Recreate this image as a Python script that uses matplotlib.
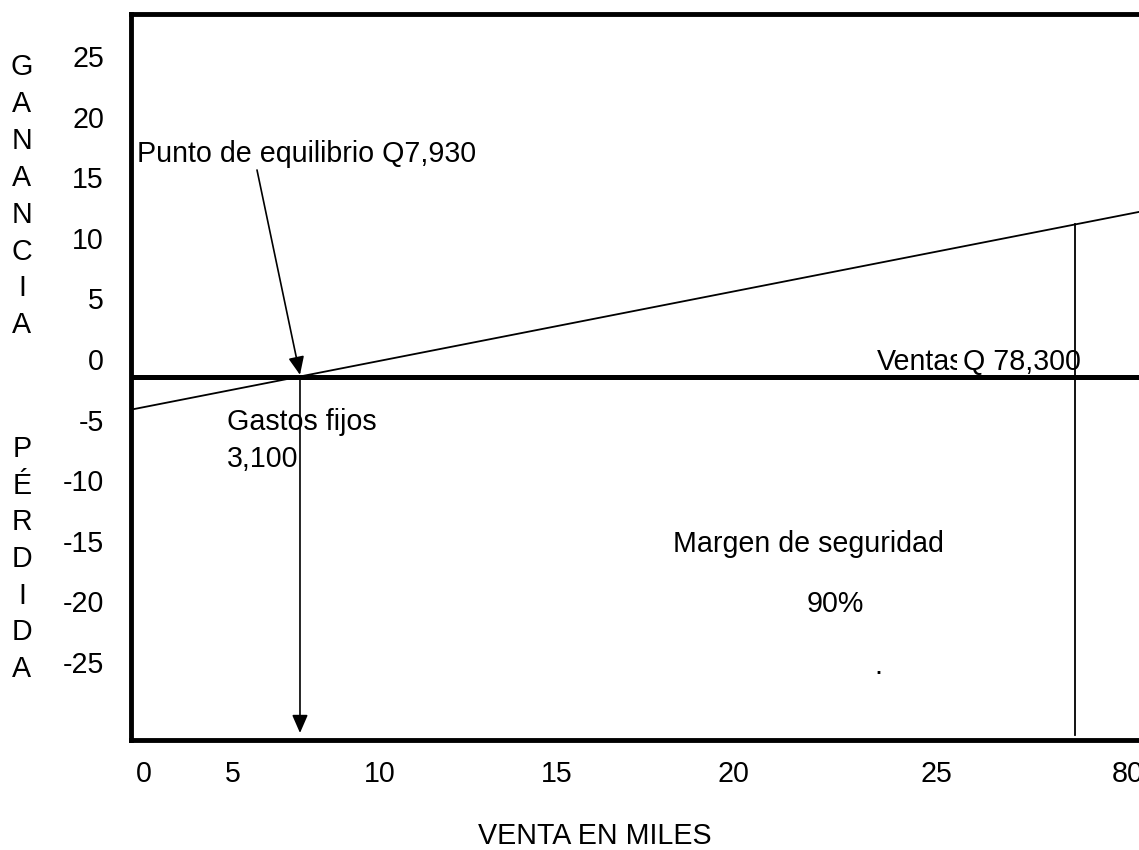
import matplotlib
matplotlib.use("Agg")
import matplotlib.pyplot as plt

plt.rcParams['font.family'] = ['Liberation Sans', 'DejaVu Sans']

# ---------------- data (thousands of Quetzales) ----------------
fixed_costs = 3.1          # Gastos fijos
breakeven_sales = 7.93     # Punto de equilibrio
actual_sales = 78.3        # Ventas
safety_margin_pct = 90     # Margen de seguridad

x_tick_labels = ["0", "5", "10", "15", "20", "25", "80"]
y_tick_labels = ["25", "20", "15", "10", "5", "0", "-5", "-10", "-15", "-20", "-25"]
gain_letters = list("GANANCIA")
loss_letters = list("PÉRDIDA")

# ---------------- layout (pixels of the 1139x850 canvas) ----------------
W, H = 1139, 850
FS = 20.6
AX_L, AX_R, AX_T, AX_B = 131, 1150, 14, 740
PX0, SX = 212.6, 11.02     # pixel of sales=0, pixels per thousand
PY0, SY = 376.5, 5.53      # pixel of profit=0, pixels per thousand


def fx(px):
    return px / W


def fy(py):
    return 1 - py / H


def dx(px):
    return (px - PX0) / SX


def dy(py):
    return (PY0 - py) / SY


fig = plt.figure(figsize=(W / 100, H / 100), dpi=100)
ax = fig.add_axes([fx(AX_L), fy(AX_B), (AX_R - AX_L) / W, (AX_B - AX_T) / H])
ax.set_xlim(dx(AX_L), dx(AX_R))
ax.set_ylim(dy(AX_B), dy(AX_T))
ax.set_xticks([])
ax.set_yticks([])
for s in ax.spines.values():
    s.set_linewidth(3.5)
    s.set_zorder(2.5)

# zero (profit = 0) line
ax.axhline(0, color='black', lw=3.6, zorder=2.4)

# profit line through (0, -fixed costs) and (break-even, 0)
ax.axline((0, -fixed_costs), (breakeven_sales, 0), color='black', lw=1.3, zorder=2)

# vertical line at actual sales
profit_at_sales = fixed_costs / breakeven_sales * actual_sales - fixed_costs
ax.plot([actual_sales, actual_sales], [profit_at_sales, dy(735)],
        color='black', lw=1.3, zorder=2)

arrow_style = dict(arrowstyle='-|>,head_length=0.55,head_width=0.24',
                   mutation_scale=20, color='black', lw=1.2,
                   shrinkA=0, shrinkB=0)
# arrow from label to break-even point
ax.annotate("", xy=(breakeven_sales, 0.3), xytext=(dx(257), dy(170)),
            arrowprops=arrow_style, zorder=3)
# vertical arrow down from break-even point
ax.annotate("", xy=(breakeven_sales, dy(733)), xytext=(breakeven_sales, 0),
            arrowprops=arrow_style, zorder=3)


# ---------------- texts ----------------
def t(px, py, s, ha='left', **kw):
    ax.text(fx(px), fy(py), s, ha=ha, va='baseline', fontsize=FS, color='black',
            transform=fig.transFigure, clip_on=False, **kw)


t(137, 162, "Punto de equilibrio Q7,930", zorder=3)
t(227, 430, "Gastos fijos", zorder=3)
t(227, 467, "3,100", zorder=3)
t(673, 552, "Margen de seguridad", zorder=3)
t(807, 612, "90%", zorder=3)
t(874, 674, ".", zorder=3)
t(877, 370, "Ventas", zorder=1)
t(963, 370, "Q 78,300", zorder=1.5,
  bbox=dict(boxstyle='square,pad=0.2', fc='white', ec='none'))

# y tick labels
for i, lab in enumerate(y_tick_labels):
    t(104, 67 + 60.6 * i, lab, ha='right')

# x tick labels
x_label_px = [144, 233, 380, 557, 733, 936, 1128]
for p, lab in zip(x_label_px, x_tick_labels):
    t(p, 782, lab, ha='center')

t(595, 844, "VENTA EN MILES", ha='center')

for i, ch in enumerate(gain_letters):
    t(22, 75 + 36.9 * i, ch, ha='center')
for i, ch in enumerate(loss_letters):
    t(22, 457 + 36.7 * i, ch, ha='center')

fig.savefig("out.png", dpi=100)
